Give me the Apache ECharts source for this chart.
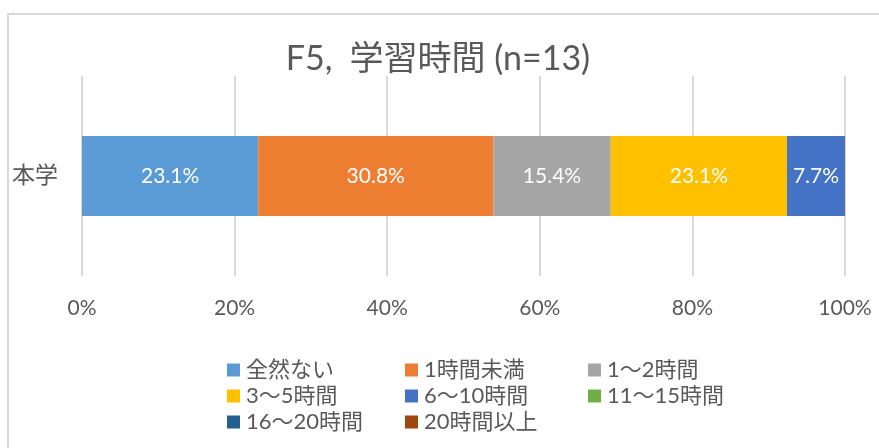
<!DOCTYPE html>
<html><head><meta charset="utf-8">
<script src="https://cdn.jsdelivr.net/npm/echarts@6/dist/echarts.min.js"></script>
<style>html,body{margin:0;padding:0;background:#fff}#c{width:879px;height:448px}</style>
</head><body><div id="c"></div>
<script>
var titleText = 'F5,\u2002学習時間 (n=13)';
var categories = ['本学'];
var seriesNames = ['全然ない','1時間未満','1〜2時間','3〜5時間','6〜10時間','11〜15時間','16〜20時間','20時間以上'];
var seriesValues = [23.1, 30.8, 15.4, 23.1, 7.7, 0, 0, 0];
var colors = ['#5B9BD5','#ED7D31','#A5A5A5','#FFC000','#4472C4','#70AD47','#255E91','#9E480E'];
var tickLabels = ['0%','20%','40%','60%','80%','100%'];

var FONT = 'Lato, "Noto Sans CJK JP", sans-serif';
var TXT = '#595959';
var chart = echarts.init(document.getElementById('c'), null, {renderer:'canvas'});

var legendCols = [227, 405, 588];
var legendRows = [371, 397, 423];
var legends = seriesNames.map(function(n, i){
  return {
    data:[n], left: legendCols[i % 3], top: legendRows[Math.floor(i / 3)] - 12,
    padding: 0, itemWidth: 13, itemHeight: 13, itemGap: 0,
    icon: 'rect', selectedMode: false,
    textStyle: {fontFamily: FONT, fontSize: 22, color: TXT, padding: [0,0,0,1]}
  };
});

var series = seriesNames.map(function(n, i){
  return {
    name: n, type: 'bar', stack: 'total', barWidth: '40%',
    data: categories.map(function(){ return seriesValues[i]; }),
    itemStyle: {color: colors[i]},
    label: {
      show: true, position: 'inside', color: '#fff', fontFamily: FONT, fontSize: 21,
      formatter: function(p){ return p.value > 0 ? p.value.toFixed(1) + '%' : ''; }
    },
    emphasis: {disabled: true}
  };
});

chart.setOption({
  animation: false,
  color: colors,
  title: {
    text: titleText, left: 433, top: 37, textAlign: 'center',
    textStyle: {fontFamily: FONT, fontSize: 34, fontWeight: 'normal', color: TXT}
  },
  graphic: [{
    type: 'rect', shape: {x: 8, y: 14, width: 1000, height: 1000},
    style: {fill: 'none', stroke: '#d9d9d9', lineWidth: 2}, silent: true, z: -10
  }],
  legend: legends,
  grid: {left: 82, right: 34, top: 76, bottom: 172, containLabel: false},
  xAxis: {
    type: 'value', min: 0, max: 100, interval: 20,
    axisLine: {show: false}, axisTick: {show: false},
    splitLine: {show: true, lineStyle: {color: '#d9d9d9', width: 2}},
    axisLabel: {
      margin: 22, fontFamily: FONT, fontSize: 21, color: TXT,
      formatter: function(v){ return tickLabels[Math.round(v / 20)]; }
    }
  },
  yAxis: {
    type: 'category', data: categories, inverse: true,
    axisLine: {show: false}, axisTick: {show: false},
    axisLabel: {margin: 24, fontFamily: FONT, fontSize: 23, color: TXT}
  },
  series: series
});
</script></body></html>
